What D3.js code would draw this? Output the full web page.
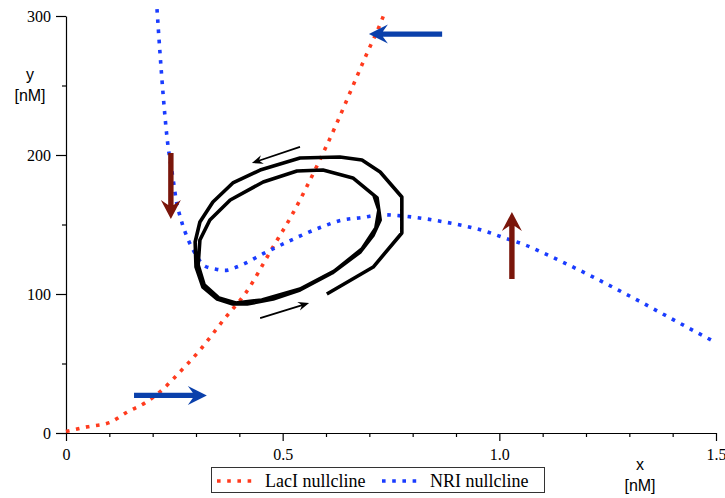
<!DOCTYPE html>
<html>
<head>
<meta charset="utf-8">
<script src="https://cdn.jsdelivr.net/npm/d3@7/dist/d3.min.js"></script>
<style>
  html, body { margin: 0; padding: 0; background: #fff; }
  svg { display: block; }
</style>
</head>
<body>
<svg id="chart" width="725" height="498"></svg>
<script>
// LacI nullcline (x, y) in nM
const laciNullcline = [
  [0, 1], [0.05, 4.5], [0.1, 7.5], [0.141, 15], [0.182, 21.6], [0.222, 31],
  [0.256, 41.7], [0.31, 60], [0.367, 82.7], [0.413, 100], [0.475, 132.4],
  [0.524, 158.3], [0.579, 192.1], [0.6, 205.8], [0.697, 274.8], [0.727, 295.7],
  [0.736, 303]
];

// NRI nullcline (x, y) in nM
const nriNullcline = [
  [0.21, 305], [0.217, 273], [0.224, 244], [0.233, 213], [0.247, 183],
  [0.254, 168], [0.265, 154], [0.282, 139], [0.293, 132], [0.321, 120],
  [0.344, 118], [0.367, 117], [0.39, 119], [0.413, 122], [0.455, 129],
  [0.501, 136], [0.542, 142], [0.588, 148], [0.635, 153], [0.683, 155],
  [0.729, 157], [0.78, 156], [0.87, 152], [0.969, 145], [1.015, 140],
  [1.062, 135], [1.105, 129], [1.322, 95], [1.387, 84], [1.452, 73], [1.5, 65]
];

// Simulated trajectory spiralling onto the limit cycle
const trajectory = [
  [0.602, 100.0], [0.709, 119.4], [0.775, 143.9], [0.775, 169.8], [0.725, 187.8],
  [0.683, 196.4], [0.632, 198.6], [0.540, 197.8], [0.448, 189.2], [0.385, 179.9],
  [0.339, 166.2], [0.309, 151.8], [0.298, 137.4], [0.300, 119.4], [0.316, 105.0],
  [0.349, 96.4], [0.385, 92.8], [0.418, 92.8], [0.478, 96.4], [0.540, 102.9],
  [0.614, 115.1], [0.679, 130.2], [0.709, 142.4], [0.725, 153.2], [0.718, 169.1],
  [0.662, 183.5], [0.593, 189.2], [0.533, 188.5], [0.455, 180.6], [0.379, 167.6],
  [0.332, 153.2], [0.309, 138.8], [0.305, 120.9], [0.319, 106.5], [0.353, 97.1],
  [0.392, 93.5], [0.452, 95.7], [0.540, 103.6], [0.619, 116.5], [0.683, 132.4],
  [0.715, 147.5], [0.722, 160.4], [0.711, 170.5]
];

// Direction-of-flow arrows: [fromX, fromY, toX, toY]
const redArrows = [[0.242, 201.4, 0.242, 154], [1.029, 110.8, 1.029, 159]];
const blueArrows = [[0.868, 287, 0.699, 287], [0.157, 27, 0.325, 27]];
const cycleArrows = [[0.540, 205.8, 0.429, 194.2], [0.448, 82.7, 0.561, 93.5]];

// Axis ticks
const xTickValues = [0, 0.5, 1.0, 1.5];
const xTickLabels = ["0", "0.5", "1.0", "1.5"];
const xMinorTicks = [0.1, 0.2, 0.3, 0.4, 0.6, 0.7, 0.8, 0.9, 1.1, 1.2, 1.3, 1.4];
const yTickValues = [0, 100, 200, 300];
const yTickLabels = ["0", "100", "200", "300"];
const yMinorTicks = [50, 150, 250];

const legendItems = ["LacI nullcline", "NRI nullcline"];

const RED = "#ff3b1e", BLUE = "#1a3cff";
const DARK_RED = "#7a160b", DARK_BLUE = "#0a40ab";

const svg = d3.select("#chart");
const x = d3.scaleLinear().domain([0, 1.5]).range([66, 716]);
const y = d3.scaleLinear().domain([0, 300]).range([433, 16]);

const serif = "'Liberation Serif', 'Times New Roman', serif";
const sans = "'Liberation Sans', Arial, sans-serif";

// --- axes
svg.append("g").attr("transform", `translate(0,${y(0)})`)
  .call(d3.axisBottom(x).tickValues(xTickValues)
    .tickFormat((d, i) => xTickLabels[i]).tickSize(8).tickSizeOuter(0).tickPadding(8));
svg.append("g").attr("transform", `translate(0,${y(0)})`)
  .call(d3.axisBottom(x).tickValues(xMinorTicks).tickFormat("").tickSize(4))
  .call(g => g.select(".domain").remove());

svg.append("g").attr("transform", `translate(${x(0)},0)`)
  .call(d3.axisLeft(y).tickValues(yTickValues)
    .tickFormat((d, i) => yTickLabels[i]).tickSize(10).tickSizeOuter(0).tickPadding(5));
svg.append("g").attr("transform", `translate(${x(0)},0)`)
  .call(d3.axisLeft(y).tickValues(yMinorTicks).tickFormat("").tickSize(4))
  .call(g => g.select(".domain").remove());

svg.selectAll(".tick text").attr("font-family", serif).attr("font-size", 16).attr("fill", "#000");
svg.selectAll(".domain, .tick line").attr("stroke", "#000").attr("stroke-width", 1.2);

// axis titles
const ylab = svg.append("text").attr("font-family", sans).attr("font-size", 16)
  .attr("text-anchor", "middle").attr("fill", "#000");
ylab.append("tspan").attr("x", 30).attr("y", 80).text("y");
ylab.append("tspan").attr("x", 30).attr("y", 101).text("[nM]");

const xlab = svg.append("text").attr("font-family", sans).attr("font-size", 16)
  .attr("text-anchor", "middle").attr("fill", "#000");
xlab.append("tspan").attr("x", 640).attr("y", 470).text("x");
xlab.append("tspan").attr("x", 640).attr("y", 491).text("[nM]");

// --- nullclines
const curve = d3.line().x(d => x(d[0])).y(d => y(d[1])).curve(d3.curveMonotoneX);
svg.append("path").datum(laciNullcline).attr("d", curve)
  .attr("fill", "none").attr("stroke", RED).attr("stroke-width", 3.6)
  .attr("stroke-dasharray", "3.6 6.6");
svg.append("path").datum(nriNullcline).attr("d", curve)
  .attr("fill", "none").attr("stroke", BLUE).attr("stroke-width", 3.6)
  .attr("stroke-dasharray", "3.6 6.6");

// --- trajectory
const poly = d3.line().x(d => x(d[0])).y(d => y(d[1]));
svg.append("path").datum(trajectory).attr("d", poly)
  .attr("fill", "none").attr("stroke", "#000").attr("stroke-width", 3.6)
  .attr("stroke-linejoin", "round");

// --- arrows
function arrowShape(a, shaftHalf, headLen, headHalf, notch) {
  const x0 = x(a[0]), y0 = y(a[1]), x1 = x(a[2]), y1 = y(a[3]);
  const len = Math.hypot(x1 - x0, y1 - y0);
  const ux = (x1 - x0) / len, uy = (y1 - y0) / len;
  const nx = -uy, ny = ux;
  const jx = x1 - ux * (headLen - notch), jy = y1 - uy * (headLen - notch);
  const cx = x1 - ux * headLen, cy = y1 - uy * headLen;
  const pts = [
    [x0 + nx * shaftHalf, y0 + ny * shaftHalf],
    [jx + nx * shaftHalf, jy + ny * shaftHalf],
    [cx + nx * headHalf, cy + ny * headHalf],
    [x1, y1],
    [cx - nx * headHalf, cy - ny * headHalf],
    [jx - nx * shaftHalf, jy - ny * shaftHalf],
    [x0 - nx * shaftHalf, y0 - ny * shaftHalf]
  ];
  return "M" + pts.map(p => p.join(",")).join("L") + "Z";
}

svg.selectAll(".arrow-red").data(redArrows).join("path")
  .attr("d", d => arrowShape(d, 2.7, 19, 10, 5)).attr("fill", DARK_RED);
svg.selectAll(".arrow-blue").data(blueArrows).join("path")
  .attr("d", d => arrowShape(d, 2.6, 19, 9.5, 5)).attr("fill", DARK_BLUE);
svg.selectAll(".arrow-cycle").data(cycleArrows).join("path")
  .attr("d", d => arrowShape(d, 0.9, 11, 4.5, 3)).attr("fill", "#000");

// --- legend
const lg = svg.append("g");
lg.append("rect").attr("x", 211.5).attr("y", 467.5).attr("width", 333).attr("height", 25)
  .attr("fill", "#fff").attr("stroke", "#333").attr("stroke-width", 1);
const legendColors = [RED, BLUE];
const legendX = [217, 382];
const legendTextX = [265, 430];
legendItems.forEach((name, i) => {
  lg.append("line").attr("x1", legendX[i]).attr("x2", legendX[i] + 40)
    .attr("y1", 481).attr("y2", 481)
    .attr("stroke", legendColors[i]).attr("stroke-width", 3.6)
    .attr("stroke-dasharray", "3.6 6.6");
  lg.append("text").attr("x", legendTextX[i]).attr("y", 487)
    .attr("font-family", serif).attr("font-size", 18).attr("fill", "#000")
    .text(name);
});
</script>
</body>
</html>
